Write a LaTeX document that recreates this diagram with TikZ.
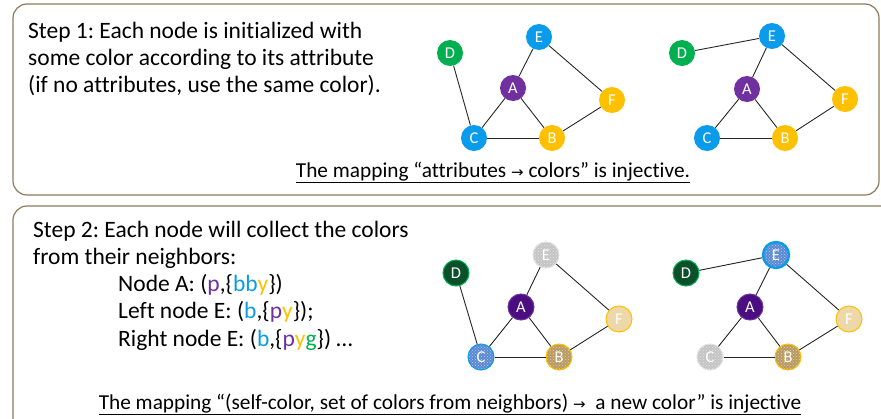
\documentclass[tikz,border=0pt]{standalone}
\usepackage{fontspec}
\setmainfont{Carlito}[Ligatures=NoCommon]
\newfontfamily\symfont{DejaVu Sans}
\usetikzlibrary{patterns}
\frenchspacing

\definecolor{cblue}{HTML}{0A9BEA}
\definecolor{cgreen}{HTML}{00B050}
\definecolor{cpurple}{HTML}{7030A0}
\definecolor{cgold}{HTML}{FFC000}
\definecolor{framec}{HTML}{8C7B5C}
\definecolor{dgreen}{HTML}{0C4F2B}
\definecolor{dpurple}{HTML}{4A0E80}
\definecolor{tan}{HTML}{B89A60}
\definecolor{ltan}{HTML}{ECD8A8}
\definecolor{tblue}{HTML}{5A8AD2}
\definecolor{tgrey}{HTML}{C4C4C4}

\tikzset{
  panel/.style={draw=framec, line width=1.2pt, rounded corners=14pt},
  gnode/.style={circle, minimum size=26pt, inner sep=0pt, text=white,
    font=\fontsize{16.5}{16.5}\selectfont},
  plain/.style={gnode, fill=#1},
  rimmed/.style 2 args={gnode, fill=#1, draw=#2, line width=1pt},
  textured/.style 2 args={gnode, preaction={fill=#1}, pattern=crosshatch dots,
    pattern color=white!55!#1, draw=#2, line width=1pt},
  link/.style={draw=black!85, line width=0.9pt},
  body/.style={anchor=base west, inner sep=0pt, font=\fontsize{23.5}{27}\selectfont},
  caption/.style={anchor=base, inner sep=0pt, font=\fontsize{21.3}{24}\selectfont},
}

\begin{document}
\begin{tikzpicture}[x=1pt,y=-1pt]
  \useasboundingbox (0,0) rectangle (881,418);
  \clip (0,0) rectangle (881,418);

  % panels
  \draw[panel] (13,4) rectangle (879,195);
  \draw[panel] (13,206) rectangle (900,440);

  % ---- step 1 text
  \node[body] (s1a) at (28,38) {Step 1: Each node is initialized with};
  \node[body] (s1b) at (28,65) {some color according to its attribute};
  \node[body] (s1c) at (28,92) {(if no attributes, use the same color).};
  \node[caption] (cap1) at (493,177)
    {\underline{The mapping “attributes {\symfont\fontsize{15}{15}\selectfont→} colors” is injective.}};

  % ---- step 1, left graph
  \node[plain=cgreen]  (aD) at (450,53)  {D};
  \node[plain=cblue]   (aE) at (539,37)  {E};
  \node[plain=cpurple] (aA) at (513,88)  {A};
  \node[plain=cgold]   (aF) at (612,100) {F};
  \node[plain=cblue]   (aC) at (474,138) {C};
  \node[plain=cgold]   (aB) at (552,138) {B};
  \draw[link] (aD) -- (aC);
  \draw[link] (aE) -- (aA);
  \draw[link] (aE) -- (aF);
  \draw[link] (aA) -- (aC);
  \draw[link] (aA) -- (aB);
  \draw[link] (aC) -- (aB);
  \draw[link] (aB) -- (aF);

  % ---- step 1, right graph
  \node[plain=cgreen]  (bD) at (682,53)  {D};
  \node[plain=cblue]   (bE) at (772,36)  {E};
  \node[plain=cpurple] (bA) at (747,89)  {A};
  \node[plain=cgold]   (bF) at (845,99)  {F};
  \node[plain=cblue]   (bC) at (707,138) {C};
  \node[plain=cgold]   (bB) at (785,138) {B};
  \draw[link] (bD) -- (bE);
  \draw[link] (bE) -- (bA);
  \draw[link] (bE) -- (bF);
  \draw[link] (bA) -- (bC);
  \draw[link] (bA) -- (bB);
  \draw[link] (bC) -- (bB);
  \draw[link] (bB) -- (bF);

  % ---- step 2 text
  \node[body] (s2a) at (33,237) {Step 2: Each node will collect the colors};
  \node[body] (s2b) at (33,264) {from their neighbors:};
  \node[body] (s2c) at (118,291)
    {Node A: (\textcolor{cpurple}{p},\{\textcolor{cblue}{bb}\textcolor{cgold}{y}\})};
  \node[body] (s2d) at (118,318)
    {Left node E: (\textcolor{cblue}{b},\{\textcolor{cpurple}{p}\textcolor{cgold}{y}\});};
  \node[body] (s2e) at (118,346)
    {Right node E: (\textcolor{cblue}{b},\{\textcolor{cpurple}{p}\textcolor{cgold}{y}\textcolor{cgreen}{g}\}) …};
  \node[caption] (cap2) at (450,409)
    {\underline{The mapping “(self-color, set of colors from neighbors) {\symfont\fontsize{15}{15}\selectfont→}\ \ a new color” is injective}};

  % ---- step 2, left graph
  \node[rimmed={dgreen}{cgreen}]   (cD) at (456,273) {D};
  \node[textured={tgrey}{black!12}] (cE) at (546,255) {E};
  \node[rimmed={dpurple}{cpurple}] (cA) at (521,307) {A};
  \node[rimmed={ltan}{cgold}]      (cF) at (619,319) {F};
  \node[textured={tblue}{cblue}]   (cC) at (481,357) {C};
  \node[textured={tan}{cgold}]     (cB) at (559,357) {B};
  \draw[link] (cD) -- (cC);
  \draw[link] (cE) -- (cA);
  \draw[link] (cE) -- (cF);
  \draw[link] (cA) -- (cC);
  \draw[link] (cA) -- (cB);
  \draw[link] (cC) -- (cB);
  \draw[link] (cB) -- (cF);

  % ---- step 2, right graph
  \node[rimmed={dgreen}{cgreen}]   (dD) at (686,273) {D};
  \node[textured={tblue}{cblue}, line width=2.4pt] (dE) at (776,255) {E};
  \node[rimmed={dpurple}{cpurple}] (dA) at (750,307) {A};
  \node[rimmed={ltan}{cgold}]      (dF) at (849,319) {F};
  \node[textured={tgrey}{black!12}] (dC) at (710,357) {C};
  \node[textured={tan}{cgold}]     (dB) at (788,357) {B};
  \draw[link] (dD) -- (dE);
  \draw[link] (dE) -- (dA);
  \draw[link] (dE) -- (dF);
  \draw[link] (dA) -- (dC);
  \draw[link] (dA) -- (dB);
  \draw[link] (dC) -- (dB);
  \draw[link] (dB) -- (dF);
\end{tikzpicture}
\end{document}
